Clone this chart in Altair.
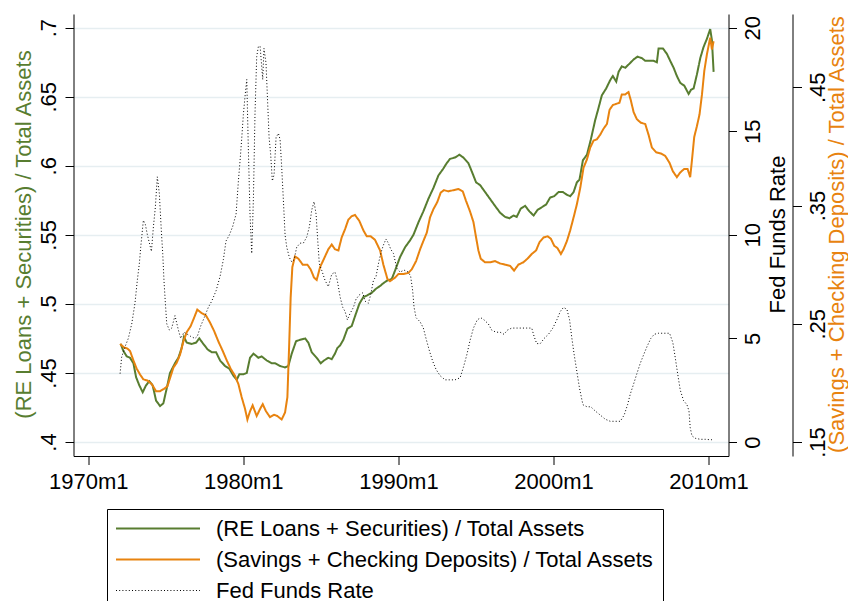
import altair as alt
import pandas as pd

# ---------------- data ----------------
re_year = [1972.09, 1972.26, 1972.48, 1972.69, 1972.91, 1973.08, 1973.29, 1973.51, 1973.72, 1973.94,
           1974.15, 1974.37, 1974.63, 1974.84, 1975.06, 1975.27, 1975.59, 1975.81, 1976.02, 1976.17,
           1976.35, 1976.67, 1976.95, 1977.16, 1977.42, 1977.70, 1977.96, 1978.24, 1978.50, 1978.82,
           1979.10, 1979.36, 1979.57, 1979.74, 1980.00, 1980.22, 1980.43, 1980.65, 1980.97, 1981.18,
           1981.51, 1981.83, 1982.04, 1982.37, 1982.69, 1982.90, 1983.12, 1983.40, 1983.66, 1983.98,
           1984.19, 1984.41, 1984.73, 1984.99, 1985.20, 1985.48, 1985.70, 1985.91, 1986.06, 1986.24,
           1986.45, 1986.71, 1986.99, 1987.20, 1987.48, 1987.74, 1987.96, 1988.28, 1988.56, 1988.82,
           1989.03, 1989.29, 1989.57, 1989.78, 1990.11, 1990.43, 1990.75, 1990.97, 1991.29, 1991.61,
           1991.93, 1992.26, 1992.58, 1992.90, 1993.12, 1993.33, 1993.65, 1993.93, 1994.19, 1994.51,
           1994.73, 1995.01, 1995.27, 1995.59, 1995.91, 1996.23, 1996.56, 1996.88, 1997.16, 1997.42,
           1997.63, 1997.89, 1998.17, 1998.45, 1998.72, 1998.97, 1999.25, 1999.53, 1999.79, 2000.05,
           2000.33, 2000.61, 2000.87, 2001.08, 2001.30, 2001.51, 2001.68, 2001.90, 2002.16, 2002.41,
           2002.69, 2002.91, 2003.12, 2003.40, 2003.66, 2003.83, 2004.05, 2004.20, 2004.41, 2004.63,
           2004.91, 2005.17, 2005.42, 2005.70, 2005.92, 2006.20, 2006.46, 2006.67, 2006.78, 2007.06,
           2007.32, 2007.53, 2007.75, 2007.96, 2008.18, 2008.44, 2008.72, 2008.87, 2009.04, 2009.25,
           2009.47, 2009.68, 2009.90, 2010.11, 2010.22, 2010.33]
re_val = [0.471, 0.466, 0.462, 0.461, 0.457, 0.447, 0.441, 0.436, 0.441, 0.444,
          0.441, 0.430, 0.426, 0.428, 0.439, 0.450, 0.457, 0.461, 0.468, 0.476,
          0.472, 0.471, 0.472, 0.475, 0.471, 0.467, 0.465, 0.465, 0.459, 0.455,
          0.453, 0.448, 0.445, 0.449, 0.449, 0.450, 0.461, 0.464, 0.461, 0.462,
          0.459, 0.457, 0.457, 0.455, 0.454, 0.455, 0.464, 0.473, 0.474, 0.475,
          0.472, 0.465, 0.461, 0.457, 0.459, 0.461, 0.460, 0.464, 0.468, 0.470,
          0.474, 0.482, 0.484, 0.491, 0.500, 0.505, 0.506, 0.508, 0.511, 0.513,
          0.515, 0.517, 0.518, 0.524, 0.534, 0.541, 0.546, 0.550, 0.559, 0.567,
          0.576, 0.584, 0.593, 0.598, 0.602, 0.605, 0.606, 0.608, 0.606, 0.602,
          0.596, 0.588, 0.586, 0.581, 0.576, 0.571, 0.566, 0.563, 0.562, 0.564,
          0.563, 0.569, 0.571, 0.567, 0.564, 0.568, 0.570, 0.572, 0.577, 0.578,
          0.581, 0.581, 0.579, 0.578, 0.581, 0.588, 0.590, 0.604, 0.608, 0.619,
          0.633, 0.642, 0.651, 0.656, 0.662, 0.665, 0.661, 0.668, 0.672, 0.671,
          0.674, 0.677, 0.679, 0.678, 0.676, 0.676, 0.676, 0.675, 0.685, 0.685,
          0.681, 0.676, 0.671, 0.665, 0.660, 0.658, 0.652, 0.655, 0.656, 0.666,
          0.678, 0.686, 0.692, 0.699, 0.691, 0.668]

dep_year = [1972.05, 1972.30, 1972.52, 1972.69, 1972.91, 1973.12, 1973.34, 1973.55, 1973.81, 1974.09,
            1974.37, 1974.63, 1974.88, 1975.10, 1975.27, 1975.49, 1975.70, 1975.92, 1976.13, 1976.35,
            1976.60, 1976.82, 1977.03, 1977.31, 1977.59, 1977.85, 1978.11, 1978.39, 1978.67, 1978.93,
            1979.18, 1979.46, 1979.68, 1979.89, 1980.11, 1980.26, 1980.43, 1980.60, 1980.86, 1981.08,
            1981.25, 1981.46, 1981.72, 1981.98, 1982.19, 1982.47, 1982.69, 1982.84, 1982.95, 1983.05,
            1983.16, 1983.33, 1983.55, 1983.83, 1984.13, 1984.34, 1984.56, 1984.73, 1984.95, 1985.20,
            1985.48, 1985.70, 1985.91, 1986.13, 1986.34, 1986.56, 1986.77, 1986.99, 1987.20, 1987.48,
            1987.74, 1987.96, 1988.21, 1988.49, 1988.82, 1989.03, 1989.29, 1989.46, 1989.78, 1990.00,
            1990.32, 1990.64, 1990.86, 1991.14, 1991.40, 1991.61, 1991.83, 1992.04, 1992.26, 1992.51,
            1992.73, 1992.94, 1993.22, 1993.55, 1993.87, 1994.15, 1994.36, 1994.62, 1994.84, 1995.01,
            1995.16, 1995.31, 1995.59, 1995.91, 1996.23, 1996.56, 1996.88, 1997.20, 1997.46, 1997.74,
            1998.06, 1998.32, 1998.60, 1998.88, 1999.10, 1999.36, 1999.62, 1999.83, 2000.05, 2000.26,
            2000.48, 2000.65, 2000.87, 2001.08, 2001.30, 2001.51, 2001.73, 2001.94, 2002.16, 2002.37,
            2002.59, 2002.80, 2003.02, 2003.23, 2003.45, 2003.62, 2003.83, 2004.05, 2004.26, 2004.41,
            2004.63, 2004.84, 2004.99, 2005.17, 2005.38, 2005.64, 2005.92, 2006.13, 2006.35, 2006.63,
            2006.93, 2007.21, 2007.49, 2007.70, 2007.96, 2008.18, 2008.44, 2008.65, 2008.82, 2008.93,
            2009.08, 2009.25, 2009.42, 2009.58, 2009.73, 2009.90, 2010.11, 2010.22, 2010.33]
dep_val = [0.233, 0.230, 0.229, 0.227, 0.219, 0.212, 0.207, 0.203, 0.202, 0.199,
           0.193, 0.193, 0.195, 0.197, 0.204, 0.213, 0.217, 0.224, 0.235, 0.243,
           0.248, 0.255, 0.262, 0.259, 0.257, 0.251, 0.244, 0.235, 0.227, 0.219,
           0.212, 0.206, 0.199, 0.188, 0.178, 0.169, 0.176, 0.181, 0.172, 0.178,
           0.182, 0.176, 0.171, 0.173, 0.172, 0.169, 0.175, 0.188, 0.230, 0.272,
           0.298, 0.307, 0.305, 0.300, 0.300, 0.296, 0.289, 0.287, 0.298, 0.305,
           0.313, 0.317, 0.313, 0.312, 0.323, 0.330, 0.338, 0.341, 0.342, 0.337,
           0.329, 0.324, 0.324, 0.321, 0.312, 0.300, 0.288, 0.286, 0.289, 0.292,
           0.292, 0.293, 0.296, 0.303, 0.313, 0.320, 0.327, 0.340, 0.347, 0.353,
           0.361, 0.363, 0.362, 0.363, 0.364, 0.362, 0.354, 0.345, 0.336, 0.323,
           0.312, 0.305, 0.302, 0.302, 0.303, 0.301, 0.300, 0.299, 0.295, 0.300,
           0.302, 0.305, 0.309, 0.312, 0.319, 0.323, 0.324, 0.322, 0.316, 0.314,
           0.309, 0.313, 0.320, 0.329, 0.340, 0.351, 0.365, 0.382, 0.389, 0.399,
           0.405, 0.406, 0.410, 0.415, 0.419, 0.431, 0.435, 0.436, 0.437, 0.444,
           0.444, 0.446, 0.439, 0.429, 0.423, 0.420, 0.419, 0.410, 0.399, 0.395,
           0.394, 0.392, 0.386, 0.379, 0.374, 0.378, 0.381, 0.381, 0.374, 0.388,
           0.408, 0.417, 0.427, 0.444, 0.464, 0.478, 0.492, 0.482, 0.489]

ffr_year = [1972.05, 1972.15, 1972.37, 1972.58, 1972.80, 1973.01, 1973.16, 1973.29, 1973.38, 1973.46,
            1973.55, 1973.68, 1973.81, 1973.94, 1974.07, 1974.20, 1974.32, 1974.45, 1974.58, 1974.71,
            1974.80, 1974.88, 1974.97, 1975.06, 1975.23, 1975.38, 1975.59, 1975.81, 1975.96, 1976.17,
            1976.39, 1976.60, 1976.88, 1977.03, 1977.25, 1977.53, 1977.74, 1977.96, 1978.24, 1978.50,
            1978.71, 1978.88, 1979.10, 1979.31, 1979.53, 1979.68, 1979.79, 1979.89, 1980.00, 1980.11,
            1980.22, 1980.32, 1980.43, 1980.54, 1980.65, 1980.75, 1980.86, 1980.97, 1981.08, 1981.25,
            1981.33, 1981.46, 1981.55, 1981.66, 1981.76, 1981.87, 1981.98, 1982.11, 1982.26, 1982.37,
            1982.47, 1982.58, 1982.69, 1982.80, 1982.97, 1983.12, 1983.27, 1983.44, 1983.66, 1983.87,
            1984.09, 1984.26, 1984.41, 1984.56, 1984.69, 1984.80, 1984.90, 1985.05, 1985.27, 1985.48,
            1985.70, 1985.91, 1986.06, 1986.24, 1986.41, 1986.56, 1986.71, 1986.88, 1987.10, 1987.27,
            1987.48, 1987.70, 1987.85, 1988.06, 1988.21, 1988.39, 1988.56, 1988.71, 1988.86, 1989.03,
            1989.20, 1989.35, 1989.51, 1989.68, 1989.89, 1990.11, 1990.36, 1990.64, 1990.79, 1990.92,
            1991.01, 1991.14, 1991.40, 1991.61, 1991.78, 1992.00, 1992.21, 1992.43, 1992.69, 1993.01,
            1993.33, 1993.65, 1993.98, 1994.19, 1994.41, 1994.62, 1994.84, 1995.09, 1995.31, 1995.52,
            1995.80, 1996.02, 1996.30, 1996.56, 1996.81, 1997.03, 1997.31, 1997.63, 1997.95, 1998.28,
            1998.60, 1998.75, 1998.92, 1999.15, 1999.40, 1999.68, 1999.96, 2000.22, 2000.44, 2000.65,
            2000.87, 2001.04, 2001.19, 2001.34, 2001.51, 2001.68, 2001.90, 2002.16, 2002.41, 2002.69,
            2003.02, 2003.34, 2003.66, 2003.98, 2004.31, 2004.56, 2004.78, 2004.95, 2005.17, 2005.38,
            2005.60, 2005.81, 2006.03, 2006.28, 2006.50, 2006.78, 2007.10, 2007.49, 2007.70, 2007.85,
            2008.01, 2008.18, 2008.39, 2008.61, 2008.74, 2008.82, 2008.93, 2009.15, 2009.47, 2009.79,
            2010.11, 2010.22]
ffr_val = [3.3, 4.1, 4.6, 5.0, 5.7, 6.7, 7.8, 8.6, 9.4, 10.0,
           10.7, 10.5, 10.0, 9.6, 9.2, 10.4, 11.3, 12.8, 12.0, 10.2,
           9.1, 7.8, 6.7, 5.7, 5.4, 5.5, 6.1, 5.4, 5.0, 5.3,
           5.2, 5.1, 5.0, 5.1, 5.6, 6.1, 6.5, 6.8, 7.3, 8.0,
           8.8, 9.7, 10.0, 10.4, 11.0, 12.6, 13.6, 14.6, 15.8, 16.7,
           17.5, 14.2, 11.0, 9.1, 11.8, 15.8, 18.6, 19.1, 19.1, 17.5,
           19.0, 18.3, 16.7, 14.7, 13.9, 12.6, 12.9, 14.7, 14.9, 14.6,
           13.3, 11.7, 10.0, 9.4, 8.9, 8.7, 8.8, 9.4, 9.6, 9.6,
           9.9, 10.4, 11.2, 11.6, 11.0, 9.7, 8.6, 8.3, 7.8, 7.5,
           8.1, 8.2, 7.8, 7.0, 6.5, 6.3, 5.9, 6.2, 6.5, 6.9,
           7.1, 7.2, 6.8, 6.7, 7.1, 7.8, 8.0, 8.6, 9.1, 9.5,
           9.8, 9.6, 9.3, 9.1, 8.4, 8.2, 8.3, 8.2, 8.0, 7.3,
           6.5, 6.0, 5.8, 5.5, 5.0, 4.4, 3.9, 3.5, 3.2, 3.0,
           3.0, 3.0, 3.1, 3.6, 4.2, 4.9, 5.5, 5.9, 6.0, 5.9,
           5.7, 5.4, 5.3, 5.3, 5.2, 5.4, 5.5, 5.5, 5.5, 5.5,
           5.5, 5.1, 4.75, 4.75, 5.0, 5.2, 5.5, 5.9, 6.3, 6.5,
           6.4, 5.9, 5.0, 4.2, 3.4, 2.6, 1.8, 1.7, 1.7, 1.5,
           1.3, 1.1, 1.0, 1.0, 1.0, 1.3, 1.8, 2.3, 2.8, 3.3,
           3.8, 4.2, 4.6, 5.0, 5.2, 5.25, 5.25, 5.25, 4.8, 4.1,
           3.3, 2.5, 2.0, 1.8, 1.5, 0.7, 0.3, 0.18, 0.13, 0.13,
           0.11, 0.11]

names = ["(RE Loans + Securities) / Total Assets",
         "(Savings + Checking Deposits) / Total Assets",
         "Fed Funds Rate"]
GREEN = "#587d30"
ORANGE = "#e8830f"
colors = [GREEN, ORANGE, "#000000"]
dashes = [[1, 0], [1, 0], [1, 2.2]]

x_ticks = [1970, 1980, 1990, 2000, 2010]
re_ticks = [0.4, 0.45, 0.5, 0.55, 0.6, 0.65, 0.7]
dep_ticks = [0.15, 0.25, 0.35, 0.45]
ffr_ticks = [0, 5, 10, 15, 20]

re_df = pd.DataFrame({"year": re_year, "value": re_val, "series": names[0]})
dep_df = pd.DataFrame({"year": dep_year, "value": dep_val, "series": names[1]})
ffr_df = pd.DataFrame({"year": ffr_year, "value": ffr_val, "series": names[2]})

FONT = "Liberation Sans"
FS = 22
TITLE_Y = 220

legend = alt.Legend(
    title=None, orient="none", legendX=33.5, legendY=495, direction="vertical",
    fillColor="white", strokeColor="black", padding=8.5,
    labelFont=FONT, labelFontSize=FS, labelColor="black", labelLimit=900,
    labelOffset=78.5, rowPadding=9,
    labelExpr="datum.label + '\u00a0\u00a0\u00a0\u00a0\u00a0'",
    symbolType="M-1,0L7,0", symbolSize=441,
    symbolStrokeWidth=alt.ExprRef(expr="datum.value === 'Fed Funds Rate' ? 1 : 2"),
)
color = alt.Color("series:N", scale=alt.Scale(domain=names, range=colors), legend=legend)
dash = alt.StrokeDash("series:N", scale=alt.Scale(domain=names, range=dashes), legend=legend)

common_axis = dict(labelFont=FONT, labelFontSize=FS, labelColor="black",
                   titleFont=FONT, titleFontSize=FS, titleFontWeight="normal",
                   domainColor="black", tickColor="black", domainWidth=1, tickWidth=1,
                   labelFlush=False, labelOverlap=False)

x = alt.X("year:Q",
          scale=alt.Scale(domain=[1969.045, 2011.29], nice=False, zero=False),
          axis=alt.Axis(values=x_ticks, labelExpr="format(datum.value, 'd') + 'm1'",
                        title=None, grid=False, tickSize=8.5, labelPadding=7, **common_axis))

y_re = alt.Y("value:Q",
             scale=alt.Scale(domain=[0.38986, 0.70992], nice=False, zero=False),
             axis=alt.Axis(orient="left", values=re_ticks,
                           labelExpr="substring(format(datum.value, '.2~f'), 1)",
                           title=names[0], titleColor=GREEN, titleAngle=270,
                           titleAlign="center", titleBaseline="alphabetic",
                           titleX=-42.8, titleY=TITLE_Y,
                           labelAngle=270, labelAlign="center", labelBaseline="alphabetic",
                           labelPadding=10, tickSize=8.5,
                           grid=True, gridColor="#e6eef1", gridWidth=1.5, **common_axis))

y_dep = alt.Y("value:Q",
              scale=alt.Scale(domain=[0.13816, 0.512], nice=False, zero=False),
              axis=alt.Axis(orient="right", offset=64, values=dep_ticks,
                            labelExpr="substring(format(datum.value, '.2~f'), 1)",
                            title=names[1], titleColor=ORANGE, titleAngle=270,
                            titleAlign="center", titleBaseline="alphabetic",
                            titleX=50.7, titleY=TITLE_Y,
                            labelAngle=270, labelAlign="center", labelBaseline="top",
                            labelPadding=6, tickSize=9, grid=False, **common_axis))

y_ffr = alt.Y("value:Q",
              scale=alt.Scale(domain=[-0.6758, 20.661], nice=False, zero=False),
              axis=alt.Axis(orient="right", offset=0, values=ffr_ticks, format="d",
                            title=names[2], titleColor="black", titleAngle=270,
                            titleAlign="center", titleBaseline="alphabetic",
                            titleX=55.7, titleY=TITLE_Y,
                            labelAngle=270, labelAlign="center", labelBaseline="top",
                            labelPadding=5.5, tickSize=8, grid=False, **common_axis))

green = alt.Chart(re_df).mark_line(strokeWidth=2).encode(x=x, y=y_re, color=color, strokeDash=dash)
orange = alt.Chart(dep_df).mark_line(strokeWidth=2).encode(x=x, y=y_dep, color=color, strokeDash=dash)
ffr = alt.Chart(ffr_df).mark_line(strokeWidth=1).encode(x=x, y=y_ffr, color=color, strokeDash=dash)

chart = (
    alt.layer(green, orange, ffr)
    .resolve_scale(y="independent")
    .properties(width=655, height=442,
                padding={"left": 65.5, "top": 6, "right": 119.5, "bottom": 145},
                autosize=alt.AutoSizeParams(type="none"),
                background="white")
    .configure(font=FONT)
    .configure_view(stroke=None)
)

chart.save("out.html", embed_options={"renderer": "svg", "actions": False})
